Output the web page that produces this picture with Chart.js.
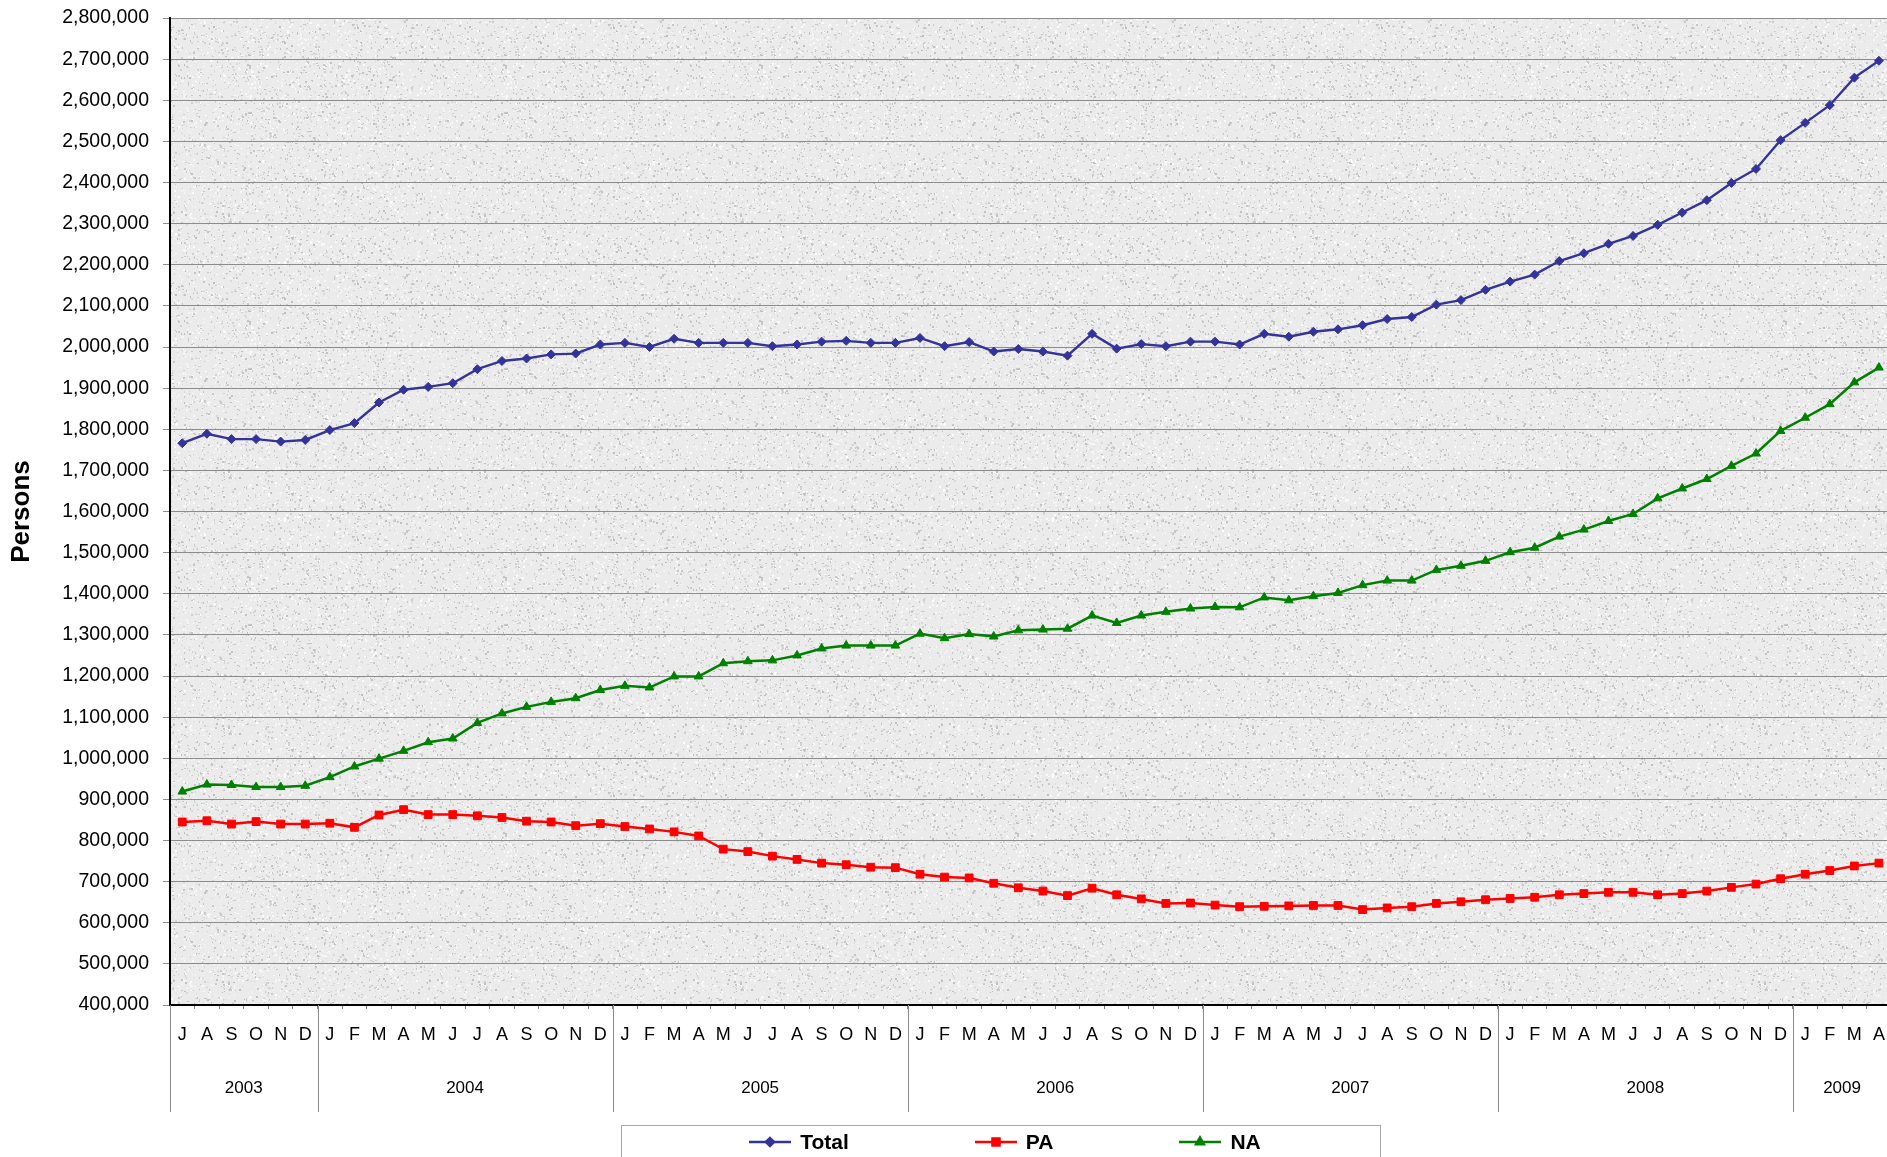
<!DOCTYPE html>
<html>
<head>
<meta charset="utf-8">
<title>Persons by month</title>
<script src="https://cdn.jsdelivr.net/npm/chart.js@4.4.0/dist/chart.umd.min.js"></script>
<style>
  html, body { margin: 0; padding: 0; background: #fff; overflow: hidden; }
  #wrap { position: relative; width: 1900px; height: 1157px; }
  #legend {
    position: absolute; left: 621px; top: 1125px; width: 760px; height: 32px;
    box-sizing: border-box; border: 1px solid #a6a6a6; border-bottom: none;
    display: flex; justify-content: center; align-items: center; gap: 126px;
    padding-left: 8px;
    font: bold 21px "Liberation Sans", Arial, sans-serif; color: #000;
  }
  #legend .item { display: flex; align-items: center; gap: 9px; }
</style>
</head>
<body>
<div id="wrap">
  <canvas id="chart"></canvas>
  <div id="legend"></div>
</div>
<script>
// month letters, July 2003 .. April 2009
const monthLabels = [
  'J','A','S','O','N','D',
  'J','F','M','A','M','J','J','A','S','O','N','D',
  'J','F','M','A','M','J','J','A','S','O','N','D',
  'J','F','M','A','M','J','J','A','S','O','N','D',
  'J','F','M','A','M','J','J','A','S','O','N','D',
  'J','F','M','A','M','J','J','A','S','O','N','D',
  'J','F','M','A'
]
const yearLabels = ['2003','2004','2005','2006','2007','2008','2009']
const monthsInYear = [6, 12, 12, 12, 12, 12, 4]

const totalValues = [
  1766000, 1789000, 1776000, 1776000, 1770000, 1774000,
  1798000, 1815000, 1865000, 1896000, 1903000, 1912000, 1946000, 1966000, 1972000, 1982000, 1984000, 2006000,
  2010000, 2000000, 2020000, 2010000, 2010000, 2010000, 2002000, 2006000, 2013000, 2015000, 2010000, 2010000,
  2022000, 2002000, 2012000, 1989000, 1995000, 1989000, 1979000, 2032000, 1996000, 2007000, 2002000, 2013000,
  2013000, 2006000, 2032000, 2025000, 2037000, 2043000, 2053000, 2068000, 2073000, 2103000, 2114000, 2139000,
  2159000, 2176000, 2209000, 2228000, 2251000, 2270000, 2297000, 2327000, 2357000, 2399000, 2433000, 2503000,
  2545000, 2588000, 2655000, 2696000
]
const paValues = [
  845000, 848000, 840000, 846000, 840000, 840000,
  842000, 832000, 862000, 875000, 863000, 863000, 860000, 856000, 847000, 845000, 836000, 841000,
  834000, 828000, 821000, 811000, 779000, 773000, 762000, 754000, 745000, 741000, 735000, 734000,
  718000, 711000, 709000, 696000, 685000, 677000, 666000, 684000, 668000, 658000, 647000, 648000,
  643000, 639000, 640000, 641000, 642000, 642000, 632000, 636000, 639000, 647000, 651000, 656000,
  659000, 662000, 668000, 671000, 674000, 674000, 668000, 671000, 677000, 686000, 694000, 707000,
  718000, 727000, 738000, 745000
]
const naValues = [
  919000, 936000, 935000, 930000, 930000, 933000,
  954000, 980000, 999000, 1018000, 1039000, 1048000, 1086000, 1109000, 1125000, 1137000, 1146000, 1166000,
  1176000, 1172000, 1199000, 1199000, 1231000, 1236000, 1238000, 1250000, 1267000, 1274000, 1274000, 1274000,
  1303000, 1292000, 1302000, 1296000, 1311000, 1313000, 1315000, 1347000, 1329000, 1347000, 1356000, 1364000,
  1368000, 1367000, 1391000, 1384000, 1394000, 1402000, 1421000, 1432000, 1432000, 1458000, 1468000, 1480000,
  1501000, 1512000, 1539000, 1556000, 1577000, 1594000, 1632000, 1656000, 1679000, 1711000, 1741000, 1796000,
  1828000, 1861000, 1914000, 1950000
]

const FONT = '"Liberation Sans", Arial, sans-serif'

// grey speckled "paper" fill for the plot area
function makePaper() {
  const c = document.createElement('canvas')
  c.width = 256; c.height = 256
  const g = c.getContext('2d')
  g.fillStyle = '#ebebeb'
  g.fillRect(0, 0, 256, 256)
  let seed = 12345
  const rnd = () => { seed = (seed * 1103515245 + 12345) % 2147483648; return seed / 2147483648 }
  for (let i = 0; i < 5000; i++) {
    const dark = rnd() < 0.5
    const v = dark ? Math.floor(190 + rnd() * 30) : Math.floor(242 + rnd() * 12)
    g.fillStyle = `rgb(${v},${v},${v})`
    g.fillRect(Math.floor(rnd() * 256), Math.floor(rnd() * 256), 1 + Math.floor(rnd() * 2), 1 + Math.floor(rnd() * 2))
  }
  return c
}

const paperPlugin = {
  id: 'paper',
  beforeDraw(chart) {
    const { ctx, chartArea: a } = chart
    ctx.save()
    ctx.fillStyle = ctx.createPattern(makePaper(), 'repeat')
    ctx.fillRect(a.left, a.top, a.right - a.left, a.bottom - a.top)
    ctx.restore()
  }
}

// second row of the category axis: years with separator lines
const yearPlugin = {
  id: 'years',
  afterDraw(chart) {
    const { ctx } = chart
    const x = chart.scales.x
    const half = (x.getPixelForValue(1) - x.getPixelForValue(0)) / 2
    ctx.save()
    ctx.strokeStyle = '#8c8c8c'
    ctx.lineWidth = 1
    ctx.fillStyle = '#000'
    ctx.font = '17px ' + FONT
    ctx.textAlign = 'center'
    ctx.textBaseline = 'middle'
    let start = 0
    yearLabels.forEach((yr, i) => {
      const end = start + monthsInYear[i] - 1
      const left = x.getPixelForValue(start) - half
      const right = x.getPixelForValue(end) + half
      ctx.beginPath()
      ctx.moveTo(Math.round(left) + 0.5, x.top)
      ctx.lineTo(Math.round(left) + 0.5, x.top + 107)
      ctx.stroke()
      ctx.fillText(yr, (left + right) / 2, x.top + 83)
      start = end + 1
    })
    ctx.restore()
  }
}

const chart = new Chart(document.getElementById('chart'), {
  type: 'line',
  data: {
    labels: monthLabels,
    datasets: [
      { label: 'Total', data: totalValues, borderColor: '#333399', backgroundColor: '#333399',
        borderWidth: 2.4, pointStyle: 'rectRot', pointRadius: 4.5, pointBorderWidth: 1 },
      { label: 'PA', data: paValues, borderColor: '#ff0000', backgroundColor: '#ff0000',
        borderWidth: 2.5, pointStyle: 'rect', pointRadius: 5.5, pointBorderWidth: 1 },
      { label: 'NA', data: naValues, borderColor: '#008000', backgroundColor: '#008000',
        borderWidth: 2.5, pointStyle: 'triangle', pointRadius: 5, pointBorderWidth: 1 }
    ]
  },
  options: {
    responsive: true,
    maintainAspectRatio: false,
    animation: false,
    layout: { padding: { top: 18, right: 1, bottom: 42, left: 0 } },
    plugins: { legend: { display: false }, tooltip: { enabled: false } },
    scales: {
      x: {
        offset: true,
        grid: { offset: true, drawOnChartArea: false, tickLength: 4, color: '#808080' },
        border: { color: '#000', width: 2 },
        ticks: { autoSkip: false, maxRotation: 0, padding: 15, color: '#000', font: { family: FONT, size: 18 } },
        afterFit: (s) => { s.height = 110 }
      },
      y: {
        min: 400000,
        max: 2800000,
        grid: { color: '#8c8c8c', tickLength: 7 },
        border: { color: '#000', width: 2 },
        ticks: {
          stepSize: 100000, padding: 14, color: '#000', font: { family: FONT, size: 19.5 },
          callback: (v) => v.toLocaleString('en-US')
        },
        title: { display: true, text: 'Persons', color: '#000', padding: { top: 6 },
          font: { family: FONT, size: 26, weight: 'bold' } },
        afterFit: (s) => { s.width = 170; s.paddingTop = 0; s.paddingBottom = 0 }
      }
    }
  },
  plugins: [paperPlugin, yearPlugin]
})

// HTML legend: line with the series marker, then the label
const legend = document.getElementById('legend')
chart.data.datasets.forEach((ds) => {
  const item = document.createElement('div')
  item.className = 'item'
  const icon = document.createElement('canvas')
  icon.width = 42; icon.height = 14
  const g = icon.getContext('2d')
  g.strokeStyle = ds.borderColor
  g.lineWidth = 2.5
  g.beginPath(); g.moveTo(0, 7); g.lineTo(42, 7); g.stroke()
  g.fillStyle = ds.backgroundColor
  Chart.helpers.drawPoint(g, { pointStyle: ds.pointStyle, radius: ds.pointRadius - 0.5, rotation: 0, borderWidth: 1 }, 21, 7)
  g.fill()
  const label = document.createElement('span')
  label.textContent = ds.label
  item.appendChild(icon)
  item.appendChild(label)
  legend.appendChild(item)
})
</script>
</body>
</html>
